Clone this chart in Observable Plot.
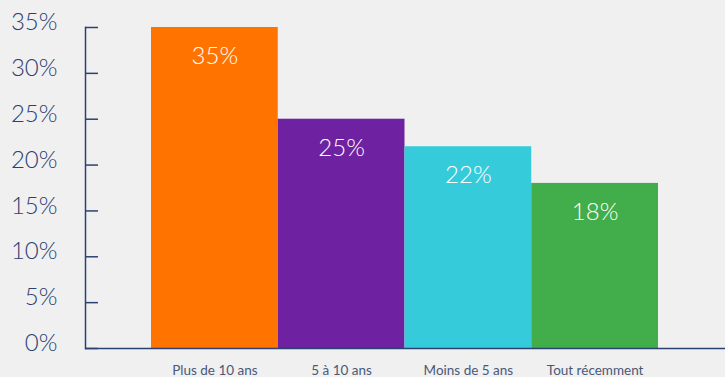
<!DOCTYPE html>
<html>
<head>
<meta charset="utf-8">
<script src="https://cdn.jsdelivr.net/npm/d3@7"></script>
<script src="https://cdn.jsdelivr.net/npm/@observablehq/plot@0.6"></script>
<style>
  html, body { margin: 0; padding: 0; background: #f0f0f0; overflow: hidden; }
</style>
</head>
<body>
<div id="chart"></div>
<script>
const categories = ["Plus de 10 ans", "5 à 10 ans", "Moins de 5 ans", "Tout récemment"];
const values = [35, 25, 22, 18];
const colors = ["#ff7300", "#6e21a0", "#36cbdb", "#41ad4b"];
const yTicks = [0, 5, 10, 15, 20, 25, 30, 35];

const data = categories.map((c, i) => ({cat: c, value: values[i]}));
const navy = "#2b4170";

const chart = Plot.plot({
  width: 725,
  height: 377,
  marginLeft: 85,
  marginRight: 0,
  marginTop: 27,
  marginBottom: 29,
  style: {background: "#f0f0f0", fontFamily: "Lato, 'Open Sans', sans-serif"},
  x: {domain: categories, range: [151, 658], padding: 0, round: false, axis: null},
  y: {domain: [0, 35], axis: null},
  color: {domain: categories, range: colors},
  marks: [
    Plot.frame({anchor: "left", stroke: navy, strokeWidth: 1.5}),
    Plot.axisY({ticks: yTicks, tickSize: 13, dx: 13, fill: "none", stroke: navy, strokeWidth: 1.5, label: null}),
    Plot.axisY({ticks: yTicks, tickSize: 0, tickPadding: 28, dy: -5, tickFormat: d => d + "%",
      fontSize: 24, fontWeight: 300, fill: navy, label: null}),
    Plot.barY(data, {x: "cat", y: "value", fill: "cat"}),
    Plot.ruleY([0], {stroke: navy, strokeWidth: 1.5}),
    Plot.text(data, {x: "cat", y: "value", text: d => d.value + "%", dy: 29, fill: "white",
      fontSize: 24, fontWeight: 300}),
    Plot.axisX({tickSize: 0, tickPadding: 17, fontSize: 13.5, fill: "#4a5878", label: null})
  ]
});
document.getElementById("chart").appendChild(chart);
</script>
</body>
</html>
